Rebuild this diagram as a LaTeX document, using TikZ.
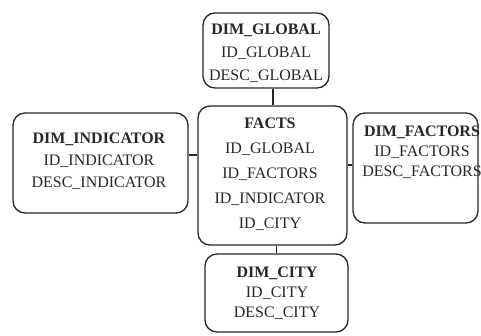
\documentclass[tikz,border=0pt]{standalone}
\usepackage{fontspec}
\setmainfont{Liberation Serif}
\begin{document}
\begin{tikzpicture}[x=1pt,y=-1pt,
  tbox/.style={draw=black!85,line width=1.3pt,rounded corners=12pt,rectangle,inner sep=0pt},
  ttext/.style={align=center,text=black!85,inner sep=0pt},
  link/.style={draw=black!85,line width=1.3pt}]
\useasboundingbox (0,0) rectangle (481,335);
% boxes
\node[tbox,minimum width=126pt,minimum height=75pt] (glob) at (266,50.5) {};
\node[tbox,minimum width=149pt,minimum height=139pt] (facts) at (272.5,175.5) {};
\node[tbox,minimum width=175pt,minimum height=100pt] (ind) at (100.5,163) {};
\node[tbox,minimum width=125pt,minimum height=110pt] (fac) at (415.5,168) {};
\node[tbox,minimum width=143pt,minimum height=78pt] (city) at (276.5,293) {};
% texts
\node[ttext,font={\fontsize{16}{23}\selectfont}] (globt) at (266,53)
  {\textbf{DIM\_GLOBAL}\\ID\_GLOBAL\\DESC\_GLOBAL};
\node[ttext,font={\fontsize{16}{25}\selectfont}] (factst) at (270,174.5)
  {\textbf{FACTS}\\ID\_GLOBAL\\ID\_FACTORS\\ID\_INDICATOR\\ID\_CITY};
\node[ttext,font={\fontsize{16}{22}\selectfont}] (indt) at (99,161)
  {\textbf{DIM\_INDICATOR}\\ID\_INDICATOR\\DESC\_INDICATOR};
\node[ttext,font={\fontsize{16}{20}\selectfont}] (fact) at (422,152)
  {\textbf{DIM\_FACTORS}\\ID\_FACTORS\\DESC\_FACTORS};
\node[ttext,font={\fontsize{16}{20}\selectfont}] (cityt) at (277,293)
  {\textbf{DIM\_CITY}\\ID\_CITY\\DESC\_CITY};
% connectors
\draw[link] ([xshift=0.5pt]facts.north) -- ([xshift=0.5pt]facts.north |- glob.south);
\draw[link] ([yshift=8pt]ind.east) -- ([yshift=8pt]ind.east -| facts.west);
\draw[link] ([yshift=3pt]fac.west) -- ([yshift=3pt]fac.west -| facts.east);
\draw[link] (city.north) -- (city.north |- facts.south);
\end{tikzpicture}
\end{document}
